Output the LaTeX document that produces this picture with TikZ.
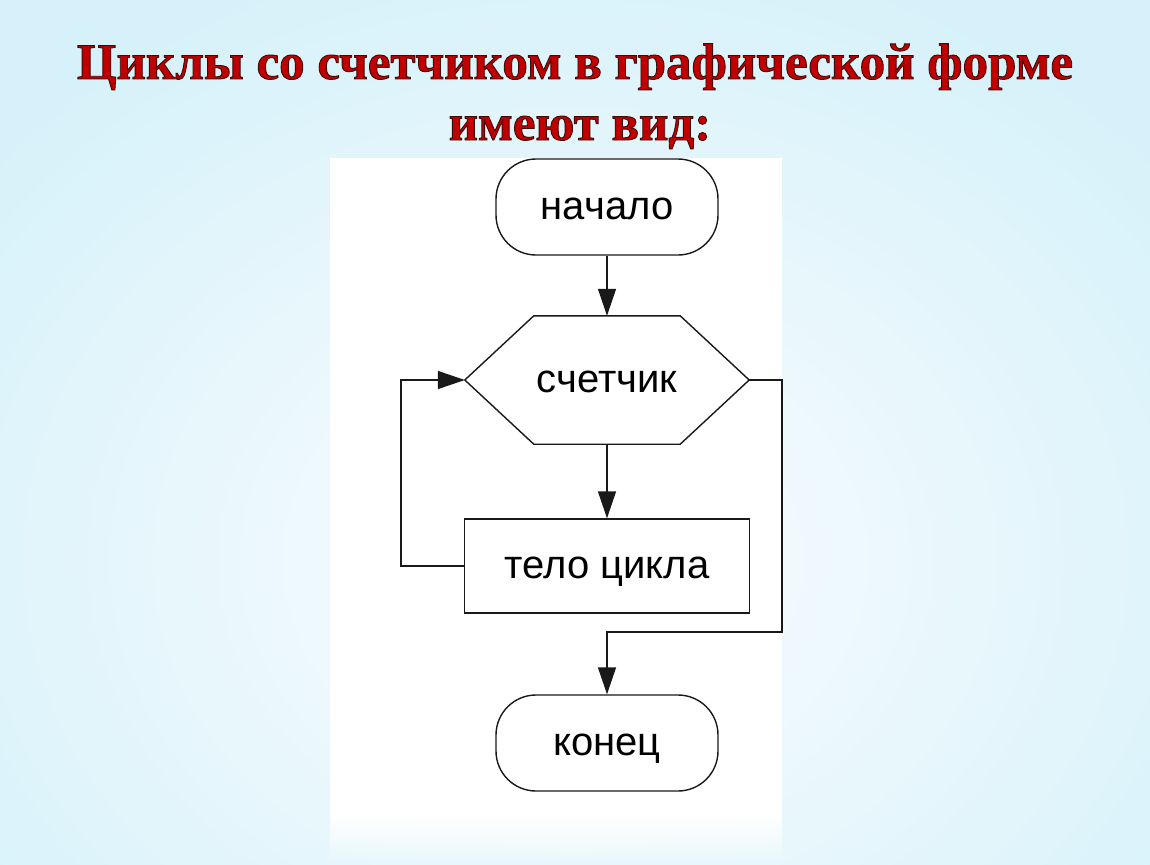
\documentclass[tikz,border=0pt]{standalone}
\usepackage{fontspec}
\setmainfont{Liberation Serif}
\setsansfont{Liberation Sans}
\usetikzlibrary{arrows.meta,fadings}
\definecolor{bgblue}{RGB}{214,241,250}
\definecolor{bgwhite}{RGB}{250,253,254}
\definecolor{titlered}{RGB}{192,0,0}
\definecolor{linec}{RGB}{25,25,25}
\newcommand{\outlined}[1]{\special{pdf:literal direct 2 Tr 0.9 w 0.25 0.04 0.04 RG}#1\special{pdf:literal direct 0 Tr}}
\begin{document}
\begin{tikzpicture}[x=1pt,y=-1pt,
  title/.style={font=\fontsize{51}{60}\selectfont\bfseries, text=titlered, anchor=base, inner sep=0pt},
  lbl/.style={font=\sffamily\fontsize{40}{44}\selectfont, text height=29pt, text depth=4pt, inner sep=0pt},
  term/.style={lbl, draw=linec, line width=1.4pt, rectangle, rounded corners=40pt, minimum width=222pt, minimum height=96pt},
  proc/.style={lbl, draw=linec, line width=1.4pt, rectangle, minimum width=285pt, minimum height=94pt},
  hexn/.style={lbl, minimum width=284pt, minimum height=128pt},
  flow/.style={draw=linec, line width=1.4pt},
  arr/.style={flow, -{Triangle[length=27pt,width=18pt]}}
]
\useasboundingbox (0,0) rectangle (1150,864);
% background
\fill[bgblue] (0,0) rectangle (1150,864);
\shade[inner color=bgwhite, outer color=bgblue] (575,560) ellipse [x radius=780, y radius=640];
% white panel
\fill[white] (330,158) rectangle (782,815);
\fill[white, path fading=south] (330,815) rectangle (782,864);
% title
\node[title] (t1) at (575,79) {\outlined{Циклы со счетчиком в графической форме}};
\node[title] (t2) at (580,140) {\outlined{имеют вид:}};
% flowchart
\node[term] (start) at (607,207) {начало};
\node[hexn] (cnt) at (607,380) {счетчик};
\draw[flow] (cnt.west) -- ([xshift=69pt]cnt.north west) -- ([xshift=-69pt]cnt.north east)
  -- (cnt.east) -- ([xshift=-69pt]cnt.south east) -- ([xshift=69pt]cnt.south west) -- cycle;
\node[proc] (body) at (607,566) {тело цикла};
\node[term] (end) at (607,743) {конец};
\coordinate (rt) at (782,632);
\draw[arr] (start) -- (cnt);
\draw[arr] (cnt) -- (body);
\draw[arr] (body.west) -- ++(-63,0) |- (cnt.west);
\draw[arr] (cnt.east) -| (rt) -| (end.north);
\end{tikzpicture}
\end{document}
